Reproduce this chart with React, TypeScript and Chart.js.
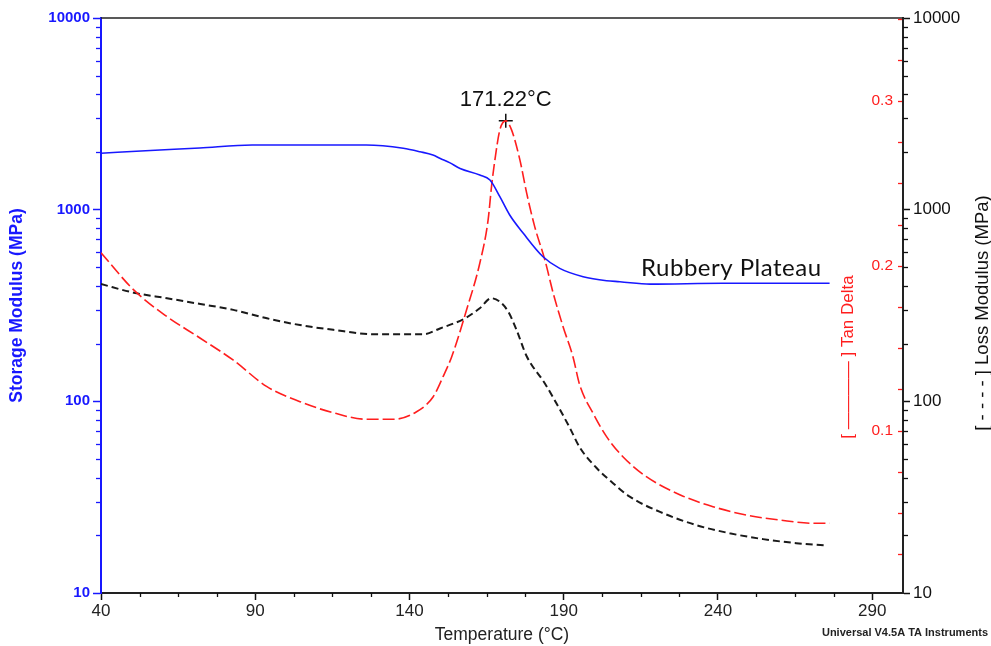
import React, { useEffect, useRef } from 'react';
import { Chart, registerables } from 'chart.js';

Chart.register(...registerables);

// Storage modulus E' (MPa) vs temperature
const storageTemp = [40, 56, 72, 89, 126, 138, 143.4, 147.6, 150, 153, 156.4, 162.8, 166.1, 169.3, 172.5, 176.9, 183.3, 188.7, 196.3, 203.9, 208.2, 218, 241.5, 276.2];
const storageModulus = [1970, 2036, 2099, 2175, 2175, 2090, 2006, 1928, 1850, 1760, 1640, 1517, 1428, 1169, 938, 753, 568, 494, 447, 426, 421, 409, 413, 413];

// Tan delta vs temperature
const tanTemp = [40, 50.6, 61.4, 72.2, 82.8, 93.8, 104.5, 115.2, 126.1, 134.8, 142.3, 147.7, 150.9, 153.7, 158.5, 162.8, 165.5, 166.6, 167.7, 169.3, 171.22, 173.1, 175.8, 178, 180.6, 183.9, 186.6, 189.8, 193, 195.2, 199.5, 203.9, 209.2, 216.8, 227.8, 238.4, 249.2, 260, 270.8, 276.2];
const tanDelta = [0.208, 0.1854, 0.1692, 0.1561, 0.1429, 0.1267, 0.1176, 0.1109, 0.1069, 0.1069, 0.1115, 0.1206, 0.1328, 0.1449, 0.1732, 0.2016, 0.2279, 0.2481, 0.2643, 0.2825, 0.288, 0.2825, 0.2643, 0.2441, 0.2238, 0.2036, 0.1834, 0.1631, 0.1449, 0.1277, 0.1106, 0.0964, 0.0842, 0.0721, 0.061, 0.0539, 0.0488, 0.0458, 0.0438, 0.0438];

// Loss modulus E'' (MPa) vs temperature
const lossTemp = [40, 50.6, 61.4, 72.2, 82.9, 93.8, 104.5, 115.3, 128.3, 144.5, 149.9, 158, 162.8, 166.5, 169.3, 172, 174.7, 178, 183.9, 188.7, 192, 195.2, 200.6, 206, 211.4, 222.2, 233, 243.8, 254.6, 265.4, 275.1];
const lossModulus = [409, 369, 345, 322, 300, 271, 250, 236, 224, 224, 240, 271, 306, 345, 331, 294, 236, 172, 124, 91, 72.6, 57.5, 45, 37.4, 31.8, 26.1, 22.6, 20.5, 19.1, 18.2, 17.7];

// Tan delta peak (glass transition)
const peakTemp = [171.22];
const peakTan = [0.288];

// Axis tick labels
const tempTicks = [40, 90, 140, 190, 240, 290];
const modulusTicks = [10, 100, 1000, 10000];
const tanTicks = [0.1, 0.2, 0.3];

const FONT = 'Arial, "Liberation Sans", sans-serif';
const BLUE = 'rgb(24, 24, 255)';
const RED = 'rgb(255, 30, 30)';

const toPoints = (xs: number[], ys: number[]) => xs.map((x, i) => ({ x, y: ys[i] }));

const decorations = {
  id: 'decorations',
  afterDraw(chart: any) {
    const { ctx, chartArea: a, scales } = chart;
    const xs = scales.x;
    const ys = scales.y;
    const ls = scales.y2;
    const ts = scales.yTan;
    ctx.save();

    // top frame line
    ctx.strokeStyle = '#222';
    ctx.lineWidth = 1.5;
    ctx.beginPath();
    ctx.moveTo(a.left, a.top);
    ctx.lineTo(a.right, a.top);
    ctx.stroke();

    // minor ticks on both modulus axes
    ctx.lineWidth = 1.3;
    for (let d = 10; d < 10000; d *= 10) {
      for (let m = 2; m <= 9; m++) {
        const py = Math.round(ys.getPixelForValue(d * m)) + 0.5;
        ctx.strokeStyle = BLUE;
        ctx.beginPath();
        ctx.moveTo(a.left - 5, py);
        ctx.lineTo(a.left, py);
        ctx.stroke();
        const py2 = Math.round(ls.getPixelForValue(d * m)) + 0.5;
        ctx.strokeStyle = '#111';
        ctx.beginPath();
        ctx.moveTo(a.right, py2);
        ctx.lineTo(a.right + 5, py2);
        ctx.stroke();
      }
    }

    // tan delta ticks, drawn inside the right frame
    ctx.strokeStyle = RED;
    for (let k = 1; k <= 14; k++) {
      const py = Math.round(ts.getPixelForValue(k * 0.025)) + 0.5;
      ctx.beginPath();
      ctx.moveTo(a.right - 5, py);
      ctx.lineTo(a.right - 1, py);
      ctx.stroke();
    }

    // minor temperature ticks
    ctx.strokeStyle = '#111';
    for (let v = 52.5; v < 300; v += 12.5) {
      if ((v - 40) % 50 === 0) continue;
      const px = Math.round(xs.getPixelForValue(v)) + 0.5;
      ctx.beginPath();
      ctx.moveTo(px, a.bottom);
      ctx.lineTo(px, a.bottom + 4);
      ctx.stroke();
    }

    // peak label
    const pX = xs.getPixelForValue(peakTemp[0]);
    const pY = ts.getPixelForValue(peakTan[0]);
    ctx.fillStyle = '#111';
    ctx.font = `22px ${FONT}`;
    ctx.textAlign = 'center';
    ctx.textBaseline = 'middle';
    ctx.fillText(`${peakTemp[0].toFixed(2)}°C`, pX, pY - 21);

    // plateau note
    ctx.font = '24px Lato, "Noto Sans", sans-serif';
    (ctx as any).letterSpacing = '0.5px';
    ctx.textAlign = 'right';
    ctx.fillStyle = '#111';
    ctx.fillText('Rubbery Plateau', xs.getPixelForValue(273.6), ys.getPixelForValue(497));
    (ctx as any).letterSpacing = '0px';

    // rotated axis titles on the right side
    ctx.save();
    ctx.translate(848, 357);
    ctx.rotate(-Math.PI / 2);
    ctx.font = `17px ${FONT}`;
    ctx.fillStyle = RED;
    ctx.textAlign = 'center';
    ctx.fillText('[ ———— ] Tan Delta', 0, 0);
    ctx.restore();

    ctx.save();
    ctx.translate(983, 313);
    ctx.rotate(-Math.PI / 2);
    ctx.font = `18.5px ${FONT}`;
    ctx.fillStyle = '#111';
    ctx.textAlign = 'center';
    ctx.fillText('[ - - - - ] Loss Modulus (MPa)', 0, 0);
    ctx.restore();

    // instrument footer
    ctx.font = `bold 11px ${FONT}`;
    ctx.fillStyle = '#222';
    ctx.textAlign = 'right';
    ctx.fillText('Universal V4.5A TA Instruments', 988, 633);

    ctx.restore();
  },
};

export default function App() {
  const canvasRef = useRef<HTMLCanvasElement>(null);

  useEffect(() => {
    document.body.style.margin = '0';
    const canvas = canvasRef.current;
    if (!canvas) return;

    const chart = new Chart(canvas, {
      type: 'line',
      data: {
        datasets: [
          {
            label: 'Storage Modulus',
            data: toPoints(storageTemp, storageModulus),
            yAxisID: 'y',
            borderColor: BLUE,
            borderWidth: 1.6,
            pointRadius: 0,
            cubicInterpolationMode: 'monotone',
          },
          {
            label: 'Tan Delta',
            data: toPoints(tanTemp, tanDelta),
            yAxisID: 'yTan',
            borderColor: RED,
            borderWidth: 1.6,
            borderDash: [12, 4],
            pointRadius: 0,
            cubicInterpolationMode: 'monotone',
          },
          {
            label: 'Loss Modulus',
            data: toPoints(lossTemp, lossModulus),
            yAxisID: 'y2',
            borderColor: '#1a1a1a',
            borderWidth: 2,
            borderDash: [7, 4],
            pointRadius: 0,
            cubicInterpolationMode: 'monotone',
          },
          {
            label: 'Peak',
            data: toPoints(peakTemp, peakTan),
            yAxisID: 'yTan',
            showLine: false,
            pointStyle: 'cross',
            pointRadius: 7,
            borderColor: '#111',
            borderWidth: 1.5,
          },
        ],
      },
      options: {
        responsive: false,
        animation: false,
        devicePixelRatio: 1,
        layout: { padding: { top: 18, left: 0, right: 0, bottom: 0 } },
        plugins: { legend: { display: false }, tooltip: { enabled: false } },
        scales: {
          x: {
            type: 'linear',
            position: 'bottom',
            min: 40,
            max: 300,
            afterBuildTicks: (s: any) => {
              s.ticks = tempTicks.map((value) => ({ value }));
            },
            afterFit: (s: any) => {
              s.height = 53;
            },
            ticks: {
              color: '#222',
              font: { family: FONT, size: 17 },
              padding: 1,
              maxRotation: 0,
              autoSkip: false,
              callback: (v: any) => String(v),
            },
            grid: { drawOnChartArea: false, tickLength: 7, tickColor: '#111', tickWidth: 1.5 },
            border: { color: '#222', width: 2 },
            title: {
              display: true,
              text: 'Temperature (°C)',
              color: '#222',
              font: { family: FONT, size: 17.5 },
              padding: { top: 0, bottom: 0 },
            },
          },
          y: {
            type: 'logarithmic',
            position: 'left',
            min: 10,
            max: 10000,
            afterBuildTicks: (s: any) => {
              s.ticks = modulusTicks.map((value) => ({ value }));
            },
            afterFit: (s: any) => {
              s.width = 101;
            },
            ticks: {
              color: BLUE,
              font: { family: FONT, size: 15, weight: 'bold' },
              padding: 3,
              callback: (v: any) => String(v),
            },
            grid: { drawOnChartArea: false, tickLength: 8, tickColor: BLUE, tickWidth: 1.5 },
            border: { color: BLUE, width: 2 },
            title: {
              display: true,
              text: 'Storage Modulus (MPa)',
              color: BLUE,
              font: { family: FONT, size: 17.5, weight: 'bold' },
              padding: { top: 7, bottom: 0 },
            },
          },
          yTan: {
            type: 'linear',
            position: 'right',
            weight: 0,
            min: 0.0015,
            max: 0.3504,
            afterBuildTicks: (s: any) => {
              s.ticks = tanTicks.map((value) => ({ value }));
            },
            afterFit: (s: any) => {
              s.width = 0;
            },
            ticks: {
              mirror: true,
              padding: -10,
              color: RED,
              font: { family: FONT, size: 15.5 },
              callback: (v: any) => Number(v).toFixed(1),
            },
            grid: { display: false, drawOnChartArea: false },
            border: { display: false },
          },
          y2: {
            type: 'logarithmic',
            position: 'right',
            weight: 1,
            min: 10,
            max: 10000,
            afterBuildTicks: (s: any) => {
              s.ticks = modulusTicks.map((value) => ({ value }));
            },
            afterFit: (s: any) => {
              s.width = 88;
            },
            ticks: {
              color: '#111',
              font: { family: FONT, size: 17 },
              padding: 3,
              callback: (v: any) => String(v),
            },
            grid: { drawOnChartArea: false, tickLength: 7, tickColor: '#111', tickWidth: 1.5 },
            border: { color: '#222', width: 2 },
          },
        },
      },
      plugins: [decorations],
    });

    return () => chart.destroy();
  }, []);

  return <canvas ref={canvasRef} width={991} height={646} style={{ display: 'block' }} />;
}
